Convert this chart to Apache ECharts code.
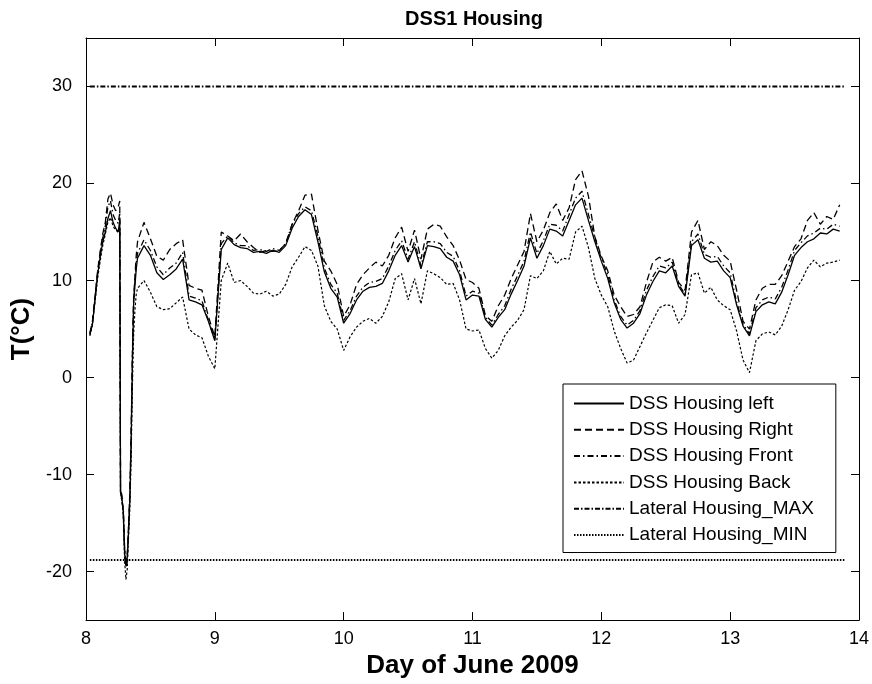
<!DOCTYPE html>
<html>
<head>
<meta charset="utf-8">
<title>DSS1 Housing</title>
<script src="https://cdn.jsdelivr.net/npm/echarts@6/dist/echarts.min.js"></script>
<style>
  html, body { margin: 0; padding: 0; background: #ffffff; }
  #chart { width: 872px; height: 684px; }
</style>
</head>
<body>
<div id="chart"></div>
<script>
// Sample times (day of June 2009): fine steps around the cold dip on the 8th, then every 0.05 day.
const days = [
  8.03, 8.05, 8.07, 8.09, 8.11, 8.13, 8.15, 8.17, 8.19, 8.21, 8.23, 8.25, 8.262,
  8.268, 8.28, 8.29, 8.30, 8.31, 8.32, 8.33, 8.34, 8.35, 8.36, 8.37, 8.38, 8.39,
  8.40, 8.45, 8.50, 8.55, 8.60, 8.65, 8.70, 8.75, 8.80, 8.85, 8.90, 8.95,
  9.00, 9.05, 9.10, 9.15, 9.20, 9.25, 9.30, 9.35, 9.40, 9.45, 9.50, 9.55, 9.60, 9.65, 9.70, 9.75, 9.80, 9.85, 9.90, 9.95,
  10.00, 10.05, 10.10, 10.15, 10.20, 10.25, 10.30, 10.35, 10.40, 10.45, 10.50, 10.55, 10.60, 10.65, 10.70, 10.75, 10.80, 10.85, 10.90, 10.95,
  11.00, 11.05, 11.10, 11.15, 11.20, 11.25, 11.30, 11.35, 11.40, 11.45, 11.50, 11.55, 11.60, 11.65, 11.70, 11.75, 11.80, 11.85, 11.90, 11.95,
  12.00, 12.05, 12.10, 12.15, 12.20, 12.25, 12.30, 12.35, 12.40, 12.45, 12.50, 12.55, 12.60, 12.65, 12.70, 12.75, 12.80, 12.85, 12.90, 12.95,
  13.00, 13.05, 13.10, 13.15, 13.20, 13.25, 13.30, 13.35, 13.40, 13.45, 13.50, 13.55, 13.60, 13.65, 13.70, 13.75, 13.80, 13.85
];

// Housing temperatures, °C
const housingLeft = [
  4.4, 5.5, 8.0, 10.6, 12.4, 14.0, 15.0, 16.4, 17.2, 16.0, 15.4, 15.0, 16.2,
  -11.7, -12.6, -13.9, -18.2, -19.4, -18.6, -16.0, -12.8, -7.0, 1.5, 7.8, 9.5, 11.2,
  12.3, 13.6, 12.6, 10.8, 10.1, 10.6, 11.2, 12.2, 8.0, 7.8, 7.5, 5.8,
  3.8, 13.2, 14.4, 13.7, 13.4, 13.3, 12.9, 13.0, 12.8, 13.1, 12.9, 13.6, 15.4, 16.6, 17.3, 16.8, 14.0, 10.9, 9.2, 8.3,
  5.6, 6.6, 8.0, 8.9, 9.3, 9.4, 9.7, 11.0, 12.6, 13.6, 11.9, 13.5, 11.2, 13.6, 13.5, 13.3, 12.4, 12.0, 10.6, 8.0,
  8.5, 8.4, 6.0, 5.2, 6.2, 7.0, 8.6, 10.0, 11.5, 14.4, 12.3, 13.6, 15.3, 15.1, 14.6, 16.2, 17.8, 18.5, 16.2, 14.0,
  12.0, 10.2, 7.7, 6.0, 5.1, 5.6, 6.6, 8.5, 9.9, 11.0, 10.8, 11.5, 9.4, 8.4, 13.6, 14.2, 12.3, 11.9, 12.0, 11.0,
  10.3, 7.5, 5.3, 4.3, 6.8, 7.5, 7.8, 7.6, 8.8, 10.6, 12.6, 13.4, 14.0, 14.3, 14.9, 14.8, 15.3, 15.1
];

const housingRight = [
  4.6, 5.8, 8.4, 11.0, 13.0, 14.8, 16.0, 18.4, 19.0, 17.8, 17.2, 17.6, 18.2,
  -11.5, -12.2, -14.2, -17.8, -19.6, -19.0, -15.2, -12.0, -6.0, 2.5, 8.4, 10.5, 12.6,
  14.0, 16.0, 14.3, 12.5, 12.1, 13.2, 13.8, 14.2, 9.5, 9.2, 9.0, 6.3,
  4.2, 15.0, 14.6, 14.1, 14.8, 14.0, 13.4, 12.9, 13.1, 13.0, 13.1, 13.8, 15.8, 17.2, 18.8, 18.9, 15.2, 12.0, 11.0, 9.6,
  6.3, 7.5, 9.6, 10.6, 11.3, 11.9, 11.5, 12.6, 14.4, 15.5, 13.0, 15.2, 12.2, 15.3, 15.8, 15.6, 14.5, 13.6, 12.1, 10.1,
  9.8, 9.2, 6.4, 5.8, 7.4, 8.5, 10.2, 11.6, 13.0, 16.9, 14.0, 15.2, 17.0, 17.9, 16.2, 17.5, 20.4, 21.3, 18.7, 14.5,
  12.5, 11.0, 8.5, 7.3, 6.3, 6.5, 7.3, 9.8, 11.9, 12.4, 12.0, 12.4, 9.8, 9.0, 15.0, 16.2, 13.2, 14.0, 13.6, 12.6,
  12.0, 9.0, 5.8, 5.0, 8.0, 9.2, 9.6, 9.6, 10.5, 12.0, 13.5, 14.3, 16.2, 17.0, 15.8, 16.6, 16.3, 17.8
];

const housingFront = [
  4.5, 5.7, 8.2, 10.8, 12.8, 14.4, 15.6, 17.6, 18.2, 16.8, 16.2, 15.9, 17.0,
  -11.9, -12.9, -13.5, -17.6, -19.0, -18.2, -15.6, -12.2, -6.5, 1.8, 8.0, 9.9, 11.8,
  12.8, 14.2, 13.1, 11.4, 10.6, 11.3, 11.8, 12.9, 8.4, 8.2, 7.9, 5.9,
  3.9, 13.8, 14.6, 13.9, 13.6, 13.6, 13.1, 13.2, 13.0, 13.3, 13.1, 13.8, 15.8, 16.9, 17.6, 17.2, 14.6, 11.3, 9.6, 8.7,
  5.9, 6.9, 8.4, 9.3, 9.8, 9.9, 10.2, 11.5, 13.1, 14.1, 12.2, 14.0, 11.5, 14.0, 14.0, 13.8, 12.9, 12.5, 11.0, 8.4,
  8.9, 8.7, 6.2, 5.4, 6.5, 7.4, 9.1, 10.5, 12.0, 15.0, 12.8, 14.1, 15.8, 15.7, 15.1, 16.8, 18.5, 19.2, 16.8, 14.4,
  12.3, 10.6, 8.0, 6.3, 5.4, 5.9, 6.9, 9.0, 10.4, 11.5, 11.3, 11.9, 9.6, 8.6, 14.0, 14.8, 12.7, 12.4, 12.5, 11.5,
  10.8, 7.8, 5.5, 4.5, 7.2, 8.0, 8.3, 8.1, 9.3, 11.1, 13.1, 13.9, 14.6, 14.9, 15.4, 15.3, 15.8, 15.6
];

const housingBack = [
  4.3, 5.4, 7.8, 10.2, 12.0, 13.6, 14.8, 16.0, 16.5, 15.6, 15.2, 15.0, 15.5,
  -11.9, -12.8, -14.5, -19.0, -20.8, -19.8, -16.5, -13.5, -8.5, -1.0, 4.5, 7.0, 8.6,
  9.2, 10.0, 8.8, 7.3, 7.0, 7.1, 7.7, 8.3, 5.0, 4.4, 4.1, 2.2,
  0.9, 10.0, 11.8, 9.8, 10.0, 9.4, 8.7, 8.6, 8.9, 8.4, 8.6, 9.6, 11.4, 12.4, 13.5, 13.1, 11.5, 7.4, 5.8, 5.0,
  2.8, 4.2, 5.2, 5.8, 6.1, 5.6, 6.3, 7.8, 10.2, 10.7, 8.0, 10.2, 7.6, 11.0, 10.7, 10.3, 9.6, 9.7, 8.0, 5.0,
  4.8, 4.9, 3.0, 2.0, 2.8, 4.3, 5.2, 5.9, 7.0, 10.5, 10.2, 11.0, 13.0, 11.7, 12.3, 12.2, 15.0, 15.6, 13.4, 10.2,
  8.5, 7.3, 4.8, 3.0, 1.5, 1.8, 3.2, 4.6, 5.9, 7.2, 7.5, 7.4, 5.6, 6.5, 10.6, 10.8, 8.7, 9.3, 8.0, 7.4,
  7.0, 4.8, 1.8, 0.5, 3.8, 4.5, 4.7, 4.4, 5.3, 7.0, 9.0, 9.9, 11.3, 12.1, 11.4, 11.8, 11.9, 12.1
];

// Lateral housing limits, °C
const lateralMax = 30;
const lateralMin = -18.8;

const xTickValues = [8, 9, 10, 11, 12, 13, 14];
const yTickValues = [-20, -10, 0, 10, 20, 30];

const seriesNames = [
  'DSS Housing left',
  'DSS Housing Right',
  'DSS Housing Front',
  'DSS Housing Back',
  'Lateral Housing_MAX',
  'Lateral Housing_MIN'
];

const FONT = '"Liberation Sans", Arial, Helvetica, sans-serif';

function pairs(values) {
  return days.map((d, i) => [d, values[i]]);
}
function flat(level) {
  return [[days[0], level], [days[days.length - 1] + 0.04, level]];
}
function lineSeries(name, data, width, dash) {
  return {
    name: name,
    type: 'line',
    data: data,
    symbol: 'none',
    silent: true,
    animation: false,
    color: '#000000',
    itemStyle: { color: '#000000' },
    lineStyle: { color: '#000000', width: width, type: dash }
  };
}

const boxTick = { show: true, inside: true, length: 8, lineStyle: { color: '#000', width: 1 } };
const boxLine = { show: true, onZero: false, lineStyle: { color: '#000', width: 1 } };

const chart = echarts.init(document.getElementById('chart'), null, { renderer: 'canvas' });

chart.setOption({
  backgroundColor: '#ffffff',
  animation: false,
  textStyle: { fontFamily: FONT, color: '#000' },
  graphic: [{
    type: 'text',
    x: 474,
    y: 19,
    style: {
      text: 'DSS1 Housing',
      font: 'bold 20px ' + FONT,
      fill: '#000',
      textAlign: 'center',
      textVerticalAlign: 'middle'
    }
  }],
  grid: { left: 86, right: 10, top: 38, bottom: 63, containLabel: false },
  legend: {
    show: true,
    orient: 'vertical',
    left: 563,
    top: 384,
    padding: [10, 22, 8, 10],
    itemWidth: 50,
    itemHeight: 14,
    itemGap: 7.3,
    backgroundColor: '#ffffff',
    borderColor: '#000',
    borderWidth: 1,
    borderRadius: 0,
    selectedMode: false,
    data: seriesNames,
    itemStyle: { color: 'rgba(0,0,0,0)', borderColor: 'rgba(0,0,0,0)', borderWidth: 0 },
    lineStyle: { color: '#000' },
    textStyle: { fontFamily: FONT, fontSize: 19, color: '#000' }
  },
  xAxis: [{
    type: 'value',
    min: 8,
    max: 14,
    interval: 1,
    name: 'Day of June 2009',
    nameLocation: 'middle',
    nameGap: 32,
    nameTextStyle: { fontFamily: FONT, fontSize: 26, fontWeight: 'bold', color: '#000' },
    axisLine: boxLine,
    axisTick: boxTick,
    splitLine: { show: false },
    axisLabel: { fontFamily: FONT, fontSize: 18, color: '#000', margin: 10,
      customValues: xTickValues, formatter: v => String(v) }
  }, {
    type: 'value',
    position: 'top',
    min: 8,
    max: 14,
    interval: 1,
    axisLine: boxLine,
    axisTick: boxTick,
    axisLabel: { show: false },
    splitLine: { show: false }
  }],
  yAxis: [{
    type: 'value',
    min: -25,
    max: 35,
    name: 'T(°C)',
    nameLocation: 'middle',
    nameGap: 51,
    nameRotate: 90,
    nameTextStyle: { fontFamily: FONT, fontSize: 26, fontWeight: 'bold', color: '#000' },
    axisLine: boxLine,
    axisTick: Object.assign({}, boxTick, { customValues: yTickValues }),
    splitLine: { show: false },
    axisLabel: { fontFamily: FONT, fontSize: 18, color: '#000', margin: 14,
      customValues: yTickValues, formatter: v => String(v) }
  }, {
    type: 'value',
    position: 'right',
    min: -25,
    max: 35,
    axisLine: boxLine,
    axisTick: Object.assign({}, boxTick, { customValues: yTickValues }),
    axisLabel: { show: false },
    splitLine: { show: false }
  }],
  series: [
    lineSeries(seriesNames[0], pairs(housingLeft), 1.3, 'solid'),
    lineSeries(seriesNames[1], pairs(housingRight), 1.3, [7, 4]),
    lineSeries(seriesNames[2], pairs(housingFront), 1.3, [6, 3, 1.5, 3]),
    lineSeries(seriesNames[3], pairs(housingBack), 1.2, [2.5, 2]),
    lineSeries(seriesNames[4], flat(lateralMax), 2, [5, 2, 1.5, 2]),
    lineSeries(seriesNames[5], flat(lateralMin), 2, [1.5, 1.5])
  ]
});
</script>
</body>
</html>
